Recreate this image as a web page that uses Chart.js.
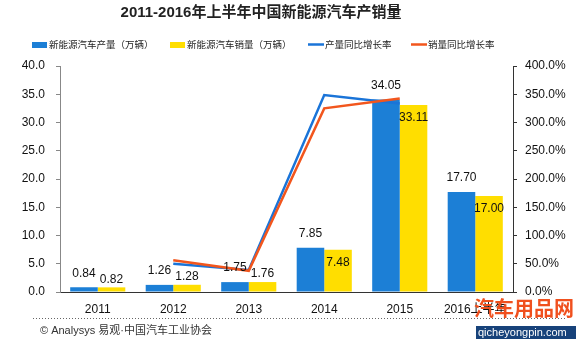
<!DOCTYPE html>
<html>
<head>
<meta charset="utf-8">
<script src="https://cdn.jsdelivr.net/npm/chart.js@4"></script>
<style>
  html, body { margin: 0; padding: 0; background: #fff; }
  canvas { display: block; }
</style>
</head>
<body>
<canvas id="chart" width="580" height="346"></canvas>
<script>
const years = ["2011", "2012", "2013", "2014", "2015", "2016上半年"];
const production = [0.84, 1.26, 1.75, 7.85, 34.05, 17.70];
const sales = [0.82, 1.28, 1.76, 7.48, 33.11, 17.00];
const productionGrowth = [null, 50.0, 38.9, 348.6, 333.8, null];
const salesGrowth = [null, 56.1, 37.5, 325.0, 342.6, null];

const FONT = "'Liberation Sans', 'Noto Sans CJK SC', sans-serif";
const BLUE = "#1c7fd6";
const YELLOW = "#ffde00";
const LINE_BLUE = "#1a74d8";
const ORANGE = "#f2561d";

// titles, legend, value labels and source line
const extras = {
  id: "extras",
  afterDatasetsDraw(chart) {
    const ctx = chart.ctx;
    ctx.save();
    ctx.fillStyle = "#111";
    ctx.font = "12px " + FONT;
    ctx.textAlign = "center";
    ctx.textBaseline = "middle";
    chart.getDatasetMeta(2).data.forEach((bar, i) => {
      ctx.fillText(production[i].toFixed(2), bar.x, bar.y - 14);
    });
    chart.getDatasetMeta(3).data.forEach((bar, i) => {
      const y = sales[i] < 5 ? bar.y - 8 : bar.y + 13;
      ctx.fillText(sales[i].toFixed(2), bar.x, y);
    });
    ctx.restore();
  },
  afterDraw(chart) {
    const ctx = chart.ctx;
    ctx.save();
    // title
    ctx.fillStyle = "#222";
    ctx.font = "bold 15px " + FONT;
    ctx.textAlign = "center";
    ctx.textBaseline = "middle";
    ctx.fillText("2011-2016年上半年中国新能源汽车产销量", 261, 13);

    // legend
    ctx.font = "9.5px " + FONT;
    ctx.textAlign = "left";
    const ds = chart.data.datasets;
    const items = [
      { x: 32, d: ds[2], bar: true },
      { x: 170, d: ds[3], bar: true },
      { x: 308, d: ds[0], bar: false },
      { x: 411, d: ds[1], bar: false }
    ];
    items.forEach(it => {
      if (it.bar) {
        ctx.fillStyle = it.d.backgroundColor;
        ctx.fillRect(it.x, 42, 15, 6);
      } else {
        ctx.strokeStyle = it.d.borderColor;
        ctx.lineWidth = 2.5;
        ctx.beginPath();
        ctx.moveTo(it.x, 44.5);
        ctx.lineTo(it.x + 16, 44.5);
        ctx.stroke();
      }
      ctx.fillStyle = "#222";
      ctx.fillText(it.d.label, it.x + 17, 45);
    });

    // dotted separator and source
    ctx.strokeStyle = "#666";
    ctx.lineWidth = 1;
    ctx.setLineDash([1, 2]);
    ctx.beginPath();
    ctx.moveTo(33, 318.5);
    ctx.lineTo(565, 318.5);
    ctx.stroke();
    ctx.setLineDash([]);
    ctx.fillStyle = "#333";
    ctx.font = "11px " + FONT;
    ctx.fillText("© Analysys 易观·中国汽车工业协会", 40, 331);

    // site stamp bottom right
    ctx.fillStyle = "#f0501e";
    ctx.font = "bold 20px " + FONT;
    ctx.fillText("汽车用品网", 474, 310);
    ctx.fillStyle = "#17427a";
    ctx.fillRect(476, 326, 100, 13);
    ctx.fillStyle = "#fff";
    ctx.font = "11px " + FONT;
    ctx.fillText("qicheyongpin.com", 478, 333);
    ctx.restore();
  }
};

new Chart(document.getElementById("chart"), {
  type: "bar",
  data: {
    labels: years,
    datasets: [
      {
        type: "line",
        label: "产量同比增长率",
        data: productionGrowth,
        yAxisID: "y1",
        borderColor: LINE_BLUE,
        backgroundColor: LINE_BLUE,
        borderWidth: 2.5,
        pointRadius: 0,
        tension: 0,
        order: 1
      },
      {
        type: "line",
        label: "销量同比增长率",
        data: salesGrowth,
        yAxisID: "y1",
        borderColor: ORANGE,
        backgroundColor: ORANGE,
        borderWidth: 2.5,
        pointRadius: 0,
        tension: 0,
        order: 0
      },
      {
        label: "新能源汽车产量（万辆）",
        data: production,
        yAxisID: "y",
        backgroundColor: BLUE,
        categoryPercentage: 0.73,
        barPercentage: 1.0,
        order: 2
      },
      {
        label: "新能源汽车销量（万辆）",
        data: sales,
        yAxisID: "y",
        backgroundColor: YELLOW,
        categoryPercentage: 0.73,
        barPercentage: 1.0,
        order: 2
      }
    ]
  },
  options: {
    responsive: false,
    animation: false,
    devicePixelRatio: 1,
    layout: { padding: { left: 20, right: 0, top: 66, bottom: 28 } },
    plugins: {
      legend: { display: false },
      title: { display: false },
      tooltip: { enabled: false }
    },
    scales: {
      x: {
        grid: { display: false, drawTicks: false },
        border: { display: true, color: "#333", width: 1 },
        ticks: { color: "#111", font: { family: FONT, size: 12 }, padding: 10, maxRotation: 0 },
        afterFit: s => { s.height = 26; }
      },
      y: {
        position: "left",
        min: 0,
        max: 40,
        grid: { drawOnChartArea: false, drawTicks: true, tickLength: 4, color: "#888" },
        border: { display: true, color: "#888", width: 1 },
        ticks: {
          stepSize: 5,
          padding: 11,
          color: "#111",
          font: { family: FONT, size: 12 },
          callback: v => v.toFixed(1)
        },
        afterFit: s => { s.width = 40; }
      },
      y1: {
        position: "right",
        min: 0,
        max: 400,
        grid: { drawOnChartArea: false, drawTicks: true, tickLength: 4, color: "#333" },
        border: { display: true, color: "#333", width: 1 },
        ticks: {
          stepSize: 50,
          padding: 8,
          color: "#111",
          font: { family: FONT, size: 12 },
          callback: v => v.toFixed(1) + "%"
        },
        afterFit: s => { s.width = 67; }
      }
    }
  },
  plugins: [extras]
});
</script>
</body>
</html>
